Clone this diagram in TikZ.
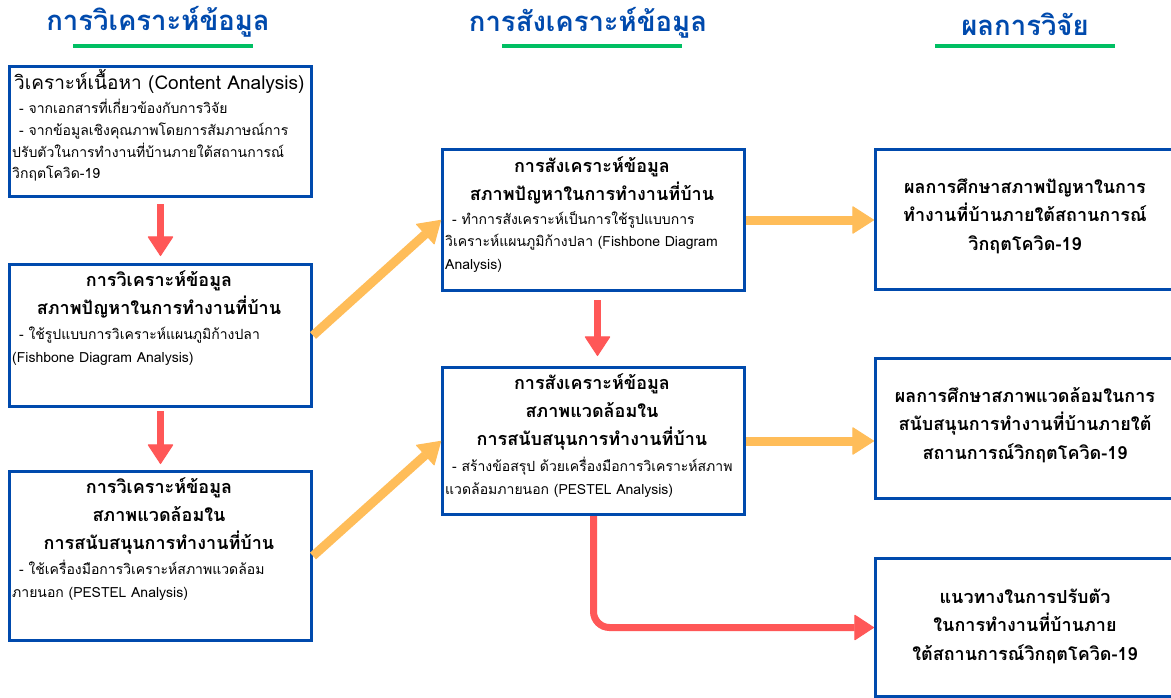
\documentclass[tikz,border=0pt]{standalone}
\usepackage{fontspec}
\setmainfont[Script=Thai]{Loma}
\usetikzlibrary{arrows.meta,calc}
\definecolor{boxblue}{HTML}{004AAD}
\definecolor{lgreen}{HTML}{00BF63}
\definecolor{orng}{HTML}{FFBD59}
\definecolor{rred}{HTML}{FF5757}
\begin{document}
\begin{tikzpicture}[x=1pt,y=-1pt,
 box/.style={draw=boxblue,line width=3pt,anchor=north west,inner sep=0pt,minimum width=302pt},
 ttl/.style={font=\fontsize{27.5}{30}\selectfont\bfseries,text=boxblue,inner sep=0pt},
 head/.style={font=\fontsize{18}{28}\selectfont\bfseries,align=center,inner sep=0pt,anchor=north},
 body/.style={font=\fontsize{14}{22.5}\selectfont,align=left,inner sep=0pt,anchor=north west},
 res/.style={font=\fontsize{18}{28.5}\selectfont\bfseries,align=center,inner sep=0pt},
 oarrow/.style={draw=orng,line width=9pt,-{Triangle[width=28pt,length=22pt,line width=1pt,round]}},
 rarrow/.style={draw=rred,line width=7pt,-{Triangle[width=26pt,length=20pt,line width=1pt,round]}},
 uline/.style={draw=lgreen,line width=4.5pt}]
\clip (0,0) rectangle (1171,697);
\fill[white] (0,0) rectangle (1171,697);
% column titles
\node[ttl] (t1) at (158,22) {การวิเคราะห์ข้อมูล};
\node[ttl] (t2) at (588,23) {การสังเคราะห์ข้อมูล};
\node[ttl] (t3) at (1025,24) {ผลการวิจัย};
\draw[uline] (73,46) -- (253,46);
\draw[uline] (502,46) -- (682,46);
\draw[uline] (935,46) -- (1115,46);
% boxes
\node[box,minimum height=130pt] (A) at (8,65) {};
\node[box,minimum height=142pt] (B) at (8,263) {};
\node[box,minimum height=169pt] (C) at (8,470) {};
\node[box,minimum height=141pt] (D) at (441,148) {};
\node[box,minimum height=147pt] (E) at (441,366) {};
\node[box,minimum height=140pt] (F) at (874,148) {};
\node[box,minimum height=140pt] (G) at (874,357) {};
\node[box,minimum height=138pt] (H) at (874,557) {};
% texts
\node[font=\fontsize{19}{22}\selectfont,inner sep=0pt,anchor=north west] (Atitle) at (14,69) {วิเคราะห์เนื้อหา (Content Analysis)};
\node[body,font=\fontsize{14}{21.7}\selectfont] (Abody) at (12,99) {\hspace*{7pt}- จากเอกสารที่เกี่ยวข้องกับการวิจัย\\\hspace*{7pt}- จากข้อมูลเชิงคุณภาพโดยการสัมภาษณ์การ\\ปรับตัวในการทำงานที่บ้านภายใต้สถานการณ์\\วิกฤตโควิด-19};
\node[head] (Bhead) at (159,270) {การวิเคราะห์ข้อมูล\\สภาพปัญหาในการทำงานที่บ้าน};
\node[body] (Bbody) at (12,327) {\hspace*{7pt}- ใช้รูปแบบการวิเคราะห์แผนภูมิก้างปลา\\(Fishbone Diagram Analysis)};
\node[head] (Chead) at (159,477) {การวิเคราะห์ข้อมูล\\สภาพแวดล้อมใน\\การสนับสนุนการทำงานที่บ้าน};
\node[body] (Cbody) at (12,560) {\hspace*{7pt}- ใช้เครื่องมือการวิเคราะห์สภาพแวดล้อม\\ภายนอก (PESTEL Analysis)};
\node[head] (Dhead) at (592,156) {การสังเคราะห์ข้อมูล\\สภาพปัญหาในการทำงานที่บ้าน};
\node[body] (Dbody) at (445,211) {\hspace*{7pt}- ทำการสังเคราะห์เป็นการใช้รูปแบบการ\\วิเคราะห์แผนภูมิก้างปลา (Fishbone Diagram\\Analysis)};
\node[head] (Ehead) at (592,373) {การสังเคราะห์ข้อมูล\\สภาพแวดล้อมใน\\การสนับสนุนการทำงานที่บ้าน};
\node[body] (Ebody) at (445,457) {\hspace*{7pt}- สร้างข้อสรุป ด้วยเครื่องมือการวิเคราะห์สภาพ\\แวดล้อมภายนอก (PESTEL Analysis)};
\node[res] (Ftext) at (1025,216) {ผลการศึกษาสภาพปัญหาในการ\\ทำงานที่บ้านภายใต้สถานการณ์\\วิกฤตโควิด-19};
\node[res] (Gtext) at (1025,425) {ผลการศึกษาสภาพแวดล้อมในการ\\สนับสนุนการทำงานที่บ้านภายใต้\\สถานการณ์วิกฤตโควิด-19};
\node[res] (Htext) at (1025,626) {แนวทางในการปรับตัว\\ในการทำงานที่บ้านภาย\\ใต้สถานการณ์วิกฤตโควิด-19};
% connectors
\draw[rarrow] ([yshift=-6pt]A.south) -- ([yshift=7pt]B.north);
\draw[rarrow] ([yshift=-3pt]B.south) -- ([yshift=6pt]C.north);
\draw[rarrow] ([xshift=4pt,yshift=-8pt]D.south) -- ([xshift=4pt,yshift=10pt]E.north);
\draw[rarrow,rounded corners=16pt] (E.south) |- (H.west);
\draw[oarrow] (B.east) -- (D.west);
\draw[oarrow] (C.east) -- (E.west);
\draw[oarrow] (D.east) -- (D.east -| F.west);
\draw[oarrow] (E.east) -- (E.east -| G.west);
\end{tikzpicture}
\end{document}
